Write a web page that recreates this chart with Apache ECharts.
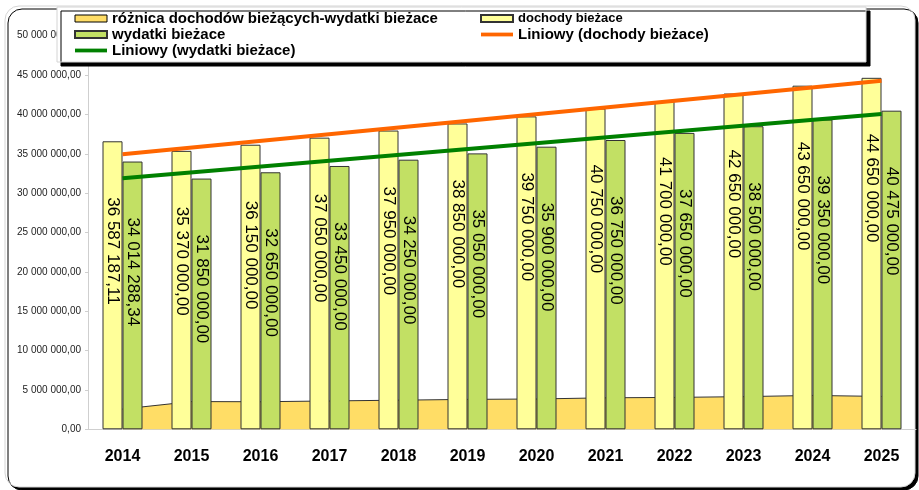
<!DOCTYPE html>
<html>
<head>
<meta charset="utf-8">
<script src="https://cdn.jsdelivr.net/npm/echarts@6/dist/echarts.min.js"></script>
<style>
  html, body { margin: 0; padding: 0; background: #fff; }
  #chart { width: 919px; height: 490px; }
</style>
</head>
<body>
<div id="chart"></div>
<script>
const years = ['2014', '2015', '2016', '2017', '2018', '2019', '2020', '2021', '2022', '2023', '2024', '2025'];
const dochody = [36587187.11, 35370000, 36150000, 37050000, 37950000, 38850000, 39750000, 40750000, 41700000, 42650000, 43650000, 44650000];
const wydatki = [34014288.34, 31850000, 32650000, 33450000, 34250000, 35050000, 35900000, 36750000, 37650000, 38500000, 39350000, 40475000];
const roznica = [2572898.77, 3520000, 3500000, 3600000, 3700000, 3800000, 3850000, 4000000, 4050000, 4150000, 4300000, 4175000];
// trend lines, end points
const trendDochody = [['2014', 34930000], ['2025', 44280000]];
const trendWydatki = [['2014', 31900000], ['2025', 40050000]];

const FONT = "'Liberation Sans', Arial, sans-serif";

function fmt(v) {
  let parts = Number(v).toFixed(2).split('.');
  return parts[0].replace(/\B(?=(\d{3})+(?!\d))/g, ' ') + ',' + parts[1];
}

const lineIcon = 'path://M0,0 L34,0 L34,4 L0,4 Z';

let myChart = echarts.init(document.getElementById('chart'));
let barLabel = {
  show: true,
  position: 'insideTop',
  rotate: -90,
  align: 'left',
  verticalAlign: 'middle',
  distance: 56,
  fontSize: 17,
  fontFamily: FONT,
  color: '#000',
  formatter: p => fmt(p.value)
};

let option = {
  animation: false,
  graphic: [
    {
      type: 'rect',
      z: -10,
      shape: { x: 5, y: 6, width: 910, height: 481, r: 14 },
      style: { fill: '#fff', stroke: '#d4d4d4', lineWidth: 1, shadowColor: '#000', shadowOffsetX: 3, shadowOffsetY: 3, shadowBlur: 0 }
    },
    {
      type: 'rect',
      z: 3,
      shape: { x: 57, y: 7, width: 809, height: 55 },
      style: { fill: '#fff', stroke: '#d4d4d4', lineWidth: 1, shadowColor: '#000', shadowOffsetX: 4, shadowOffsetY: 4, shadowBlur: 0 }
    }
  ],
  legend: [
    {
      orient: 'vertical',
      left: 74,
      top: 11,
      padding: 0,
      z: 5,
      itemGap: 1,
      itemWidth: 32,
      itemHeight: 7,
      textStyle: { fontSize: 15, fontWeight: 'bold', fontFamily: FONT, color: '#000', lineHeight: 15 },
      data: [
        { name: 'różnica dochodów bieżących-wydatki bieżace', icon: 'rect', itemStyle: { color: '#FFDD66', borderColor: '#000', borderWidth: 1 } },
        { name: 'wydatki bieżace', icon: 'rect' },
        { name: 'Liniowy (wydatki bieżace)', icon: lineIcon }
      ]
    },
    {
      orient: 'vertical',
      left: 480,
      top: 11,
      padding: 0,
      z: 5,
      itemGap: 1,
      itemWidth: 32,
      itemHeight: 7,
      textStyle: { fontSize: 15, fontWeight: 'bold', fontFamily: FONT, color: '#000', lineHeight: 15 },
      data: [
        { name: 'dochody bieżace', icon: 'rect', textStyle: { fontSize: 13 } },
        { name: 'Liniowy (dochody bieżace)', icon: lineIcon }
      ]
    }
  ],
  grid: { left: 88, top: 35.7, width: 828, height: 393.6, containLabel: false },
  xAxis: {
    type: 'category',
    data: years,
    axisLine: { lineStyle: { color: '#cfcfcf' } },
    axisTick: { length: 5, lineStyle: { color: '#cfcfcf' } },
    axisLabel: { fontSize: 16, fontWeight: 'bold', fontFamily: FONT, color: '#000', margin: 19 }
  },
  yAxis: {
    type: 'value',
    min: 0,
    max: 50000000,
    interval: 5000000,
    splitLine: { show: false },
    axisLine: { show: true, lineStyle: { color: '#cfcfcf' } },
    axisTick: { show: true, length: 3, lineStyle: { color: '#cfcfcf' } },
    axisLabel: { fontSize: 10, fontFamily: FONT, color: '#222', margin: 7, formatter: v => fmt(v) }
  },
  series: [
    {
      name: 'różnica dochodów bieżących-wydatki bieżace',
      type: 'line',
      z: 1,
      data: roznica,
      symbol: 'none',
      lineStyle: { color: '#333', width: 1 },
      itemStyle: { color: '#FFDD66' },
      areaStyle: { color: '#FFDD66', opacity: 1 }
    },
    {
      name: 'dochody bieżace',
      type: 'bar',
      z: 2,
      barWidth: 20,
      barGap: '0%',
      data: dochody,
      itemStyle: { color: '#FFFF99', borderColor: '#333', borderWidth: 1 },
      label: barLabel
    },
    {
      name: 'wydatki bieżace',
      type: 'bar',
      z: 2,
      barWidth: 20,
      barGap: '0%',
      data: wydatki,
      itemStyle: { color: '#C2E064', borderColor: '#333', borderWidth: 1 },
      label: barLabel
    },
    {
      name: 'Liniowy (dochody bieżace)',
      type: 'line',
      z: 4,
      data: trendDochody,
      symbol: 'none',
      color: '#FF6600',
      lineStyle: { color: '#FF6600', width: 4 }
    },
    {
      name: 'Liniowy (wydatki bieżace)',
      type: 'line',
      z: 4,
      data: trendWydatki,
      symbol: 'none',
      color: '#008000',
      lineStyle: { color: '#008000', width: 4 }
    }
  ]
};
myChart.setOption(option);
</script>
</body>
</html>
